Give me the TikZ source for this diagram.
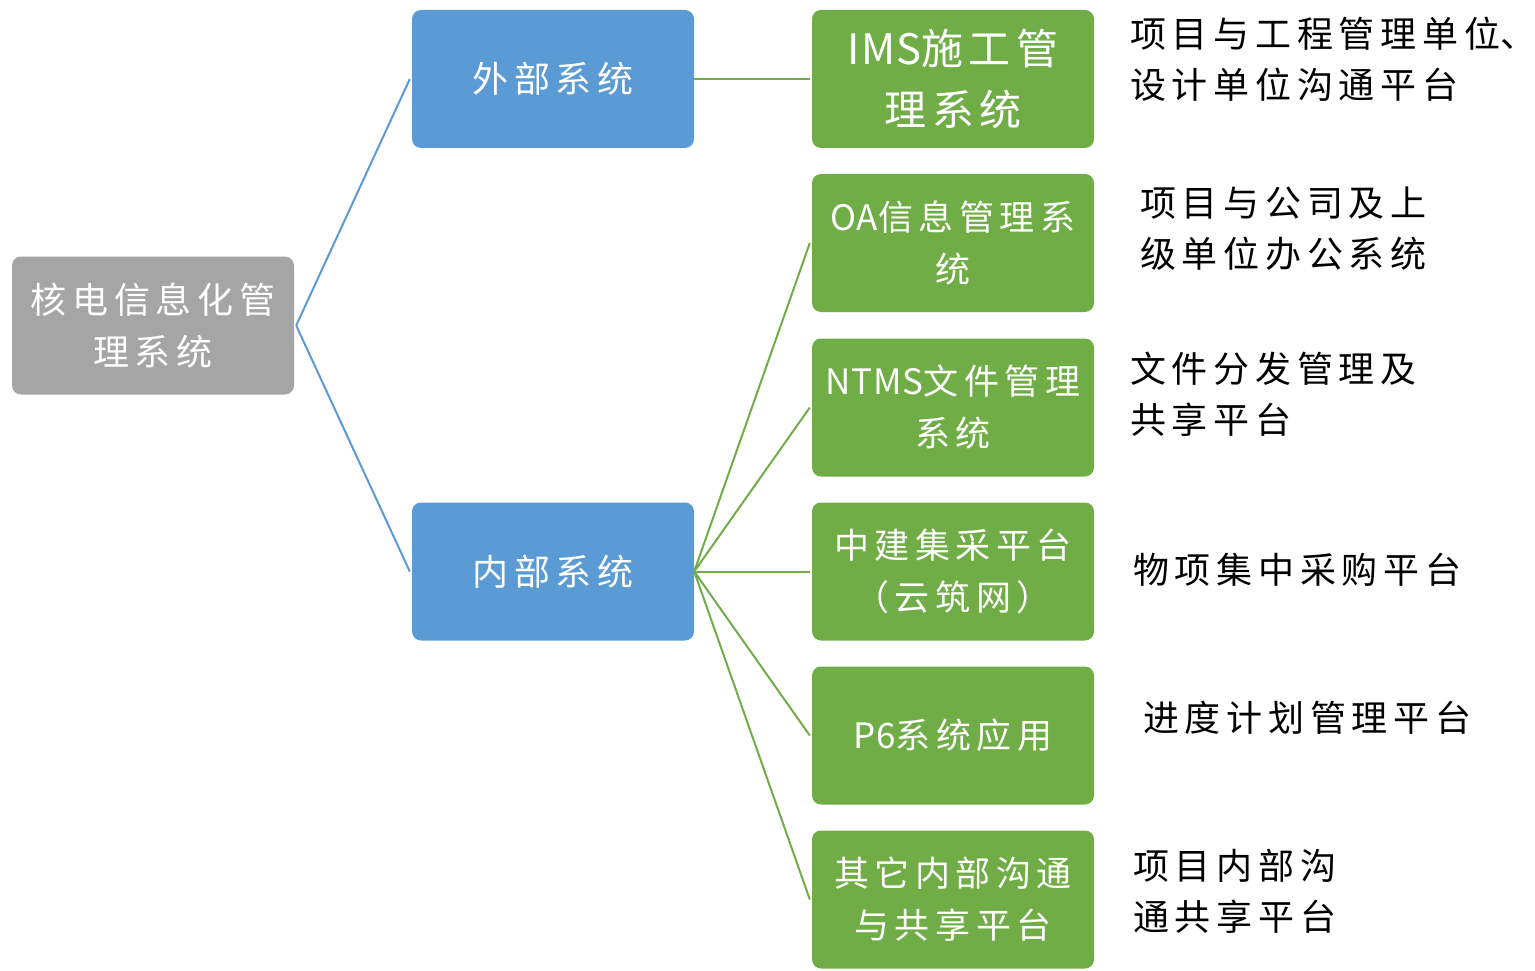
\documentclass[tikz,border=0pt]{standalone}
\usepackage{fontspec}
\setmainfont{Noto Sans CJK SC}[LetterSpace=16]
\newfontfamily\wideimsfont{Noto Sans CJK SC}[LetterSpace=13]
\newfontfamily\latinfont{Noto Sans CJK SC}[LetterSpace=2]
\newcommand{\lat}[1]{{\latinfont #1}}
\definecolor{grayb}{HTML}{A5A5A5}
\definecolor{blueb}{HTML}{5B9BD5}
\definecolor{greenb}{HTML}{70AD47}
\begin{document}
\begin{tikzpicture}[x=1pt,y=-1pt,
  box/.style={rounded corners=9pt, minimum width=282pt, minimum height=138pt,
    text=white, align=center, inner sep=0pt},
  rootbox/.style={box, fill=grayb, font=\fontsize{36}{52}\selectfont},
  bluebox/.style={box, fill=blueb, font=\fontsize{36}{52}\selectfont},
  greenbox/.style={box, fill=greenb, font=\fontsize{35}{52}\selectfont},
  imsbox/.style={box, fill=greenb, font=\wideimsfont\fontsize{42}{61}\selectfont},
  desc/.style={anchor=west, align=left, inner sep=0pt, text=black,
    font=\fontsize{36}{51}\selectfont},
  bline/.style={draw=blueb, line width=2pt},
  gline/.style={draw=greenb, line width=2pt}]
\useasboundingbox (0,0) rectangle (1535,971);
\node[rootbox] (root) at (153,325.5) {核电信息化管\\理系统};
\node[bluebox] (ext) at (553,79) {外部系统};
\node[bluebox] (int) at (553,571.5) {内部系统};
\node[imsbox] (g1) at (953,79) {\lat{IMS}施工管\\理系统};
\node[greenbox] (g2) at (953,243) {\lat{OA}信息管理系\\统};
\node[greenbox] (g3) at (953,407.5) {\lat{NTMS}文件管理\\系统};
\node[greenbox] (g4) at (953,571.5) {中建集采平台\\（云筑网）};
\node[greenbox] (g5) at (953,735.5) {\lat{P6}系统应用};
\node[greenbox] (g6) at (953,899.5) {其它内部沟通\\与共享平台};
\node[desc] (d1) at (1130,59.5) {项目与工程管理单位\rlap{、}\\设计单位沟通平台};
\node[desc] (d2) at (1140,228.5) {项目与公司及上\\级单位办公系统};
\node[desc] (d3) at (1130,394) {文件分发管理及\\共享平台};
\node[desc] (d4) at (1133,570) {物项集中采购平台};
\node[desc] (d5) at (1143,718) {进度计划管理平台};
\node[desc] (d6) at (1133,891) {项目内部沟\\通共享平台};
\draw[bline] ([xshift=2pt]root.east) -- ([xshift=-2pt]ext.west);
\draw[bline] ([xshift=2pt]root.east) -- ([xshift=-2pt]int.west);
\draw[gline] (ext.east) -- ([xshift=-2pt]g1.west);
\foreach \g in {g2,g3,g4,g5,g6}
  \draw[gline] (int.east) -- ([xshift=-2pt]\g.west);
\end{tikzpicture}
\end{document}
